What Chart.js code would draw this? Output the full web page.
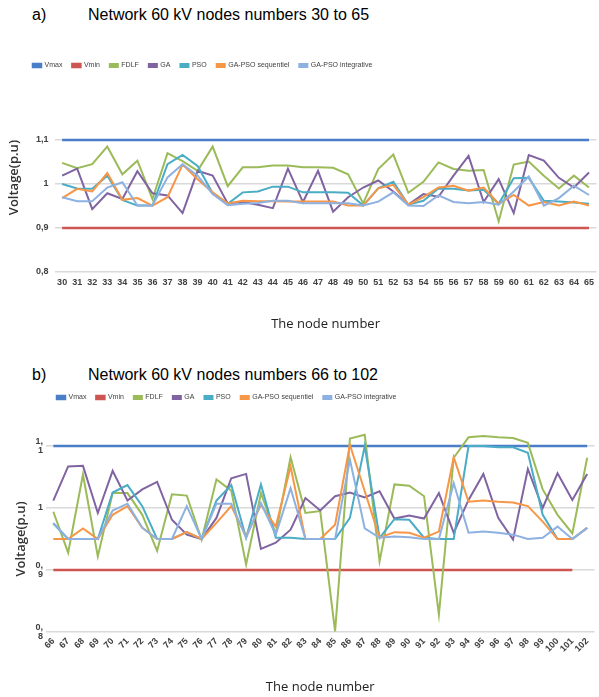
<!DOCTYPE html>
<html>
<head>
<meta charset="utf-8">
<script src="https://cdn.jsdelivr.net/npm/chart.js@4.4.1/dist/chart.umd.min.js"></script>
<style>
  body { margin: 0; background: #fff; width: 599px; height: 697px; position: relative; overflow: hidden; font-family: 'Liberation Sans', Arial, sans-serif; }
  .ttl { position: absolute; font-size: 16px; color: #000; white-space: nowrap; }
  .box { position: absolute; left: 0; width: 599px; }
</style>
</head>
<body>
<div class="ttl" style="left:32px;top:6px">a)</div>
<div class="ttl" style="left:88px;top:6px">Network 60 kV nodes numbers 30 to 65</div>
<div class="box" style="top:46px;height:294px"><canvas id="chartA"></canvas></div>

<div class="ttl" style="left:32px;top:366px">b)</div>
<div class="ttl" style="left:88px;top:366px">Network 60 kV nodes numbers 66 to 102</div>
<div class="box" style="top:380px;height:317px"><canvas id="chartB"></canvas></div>

<script>
// ---- data ----
const VMAX = 1.1;
const VMIN = 0.9;

const nodesA = ['30','31','32','33','34','35','36','37','38','39','40','41','42','43','44','45','46','47',
  '48','49','50','51','52','53','54','55','56','57','58','59','60','61','62','63','64','65'];
const fdlfA = [1.048, 1.036, 1.045, 1.085, 1.022, 1.053, 0.966, 1.070, 1.052, 1.030, 1.085, 0.995,
  1.038, 1.038, 1.042, 1.042, 1.038, 1.038, 1.037, 1.022, 0.956, 1.034, 1.067, 0.980,
  1.005, 1.049, 1.034, 1.030, 1.032, 0.915, 1.044, 1.051, 1.019, 0.990, 1.019, 0.992];
const gaA = [1.019, 1.035, 0.943, 0.979, 0.966, 1.029, 0.979, 0.974, 0.934, 1.030, 1.019, 0.956,
  0.959, 0.953, 0.945, 1.035, 0.959, 1.030, 0.937, 0.970, 0.992, 1.008, 0.983, 0.953,
  0.977, 0.971, 1.019, 1.064, 0.959, 1.011, 0.934, 1.066, 1.053, 1.014, 0.992, 1.026];
const psoA = [1.000, 0.990, 0.989, 1.019, 0.964, 0.951, 0.951, 1.045, 1.066, 1.041, 0.979, 0.955,
  0.981, 0.983, 0.994, 0.994, 0.981, 0.981, 0.981, 0.980, 0.951, 0.990, 1.005, 0.953,
  0.962, 0.990, 0.989, 0.985, 0.987, 0.955, 1.013, 1.014, 0.962, 0.960, 0.958, 0.955];
const seqA = [0.968, 0.989, 0.983, 1.025, 0.964, 0.968, 0.951, 0.970, 1.044, 1.011, 0.981, 0.956,
  0.962, 0.961, 0.961, 0.960, 0.960, 0.960, 0.960, 0.951, 0.951, 0.990, 0.998, 0.953,
  0.970, 0.992, 0.996, 0.985, 0.992, 0.955, 0.975, 0.951, 0.959, 0.951, 0.960, 0.951];
const intA = [0.970, 0.961, 0.961, 0.992, 1.004, 0.951, 0.951, 1.015, 1.045, 1.019, 0.977, 0.952,
  0.955, 0.957, 0.962, 0.962, 0.956, 0.956, 0.956, 0.956, 0.951, 0.960, 0.981, 0.951,
  0.950, 0.974, 0.959, 0.956, 0.959, 0.953, 0.983, 1.017, 0.951, 0.968, 0.996, 0.975];

const nodesB = ['66','67','68','69','70','71','72','73','74','75','76','77','78','79','80','81','82','83',
  '84','85','86','87','88','89','90','91','92','93','94','95','96','97','98','99','100','101','102'];
const fdlfB = [0.994, 0.928, 1.054, 0.922, 1.024, 1.024, 0.989, 0.931, 1.022, 1.020, 0.949, 1.046,
  1.028, 0.909, 1.024, 0.958, 1.082, 0.992, 0.995, 0.801, 1.112, 1.118, 0.914, 1.038,
  1.036, 1.019, 0.828, 1.081, 1.114, 1.116, 1.114, 1.113, 1.105, 1.030, 0.989, 0.959, 1.081];
const gaB = [1.012, 1.067, 1.068, 0.992, 1.060, 1.012, 1.030, 1.042, 0.981, 0.957, 0.950, 0.984,
  1.048, 1.055, 0.934, 0.944, 0.965, 1.016, 0.996, 1.019, 1.025, 1.017, 1.027, 0.983,
  0.988, 0.983, 1.024, 0.960, 1.013, 1.055, 0.984, 0.949, 1.063, 1.000, 1.056, 1.013, 1.055];
const psoB = [0.975, 0.950, 0.950, 0.950, 1.025, 1.037, 1.003, 0.950, 0.950, 0.961, 0.950, 1.012,
  1.037, 0.952, 1.038, 0.952, 0.952, 0.950, 0.950, 0.950, 0.984, 1.100, 0.952, 0.982,
  0.981, 0.952, 0.950, 0.950, 1.100, 1.100, 1.098, 1.098, 1.089, 0.989, 0.950, 0.950, 0.968];
const seqB = [0.950, 0.950, 0.967, 0.950, 0.989, 1.003, 0.968, 0.950, 0.950, 0.961, 0.950, 0.976,
  1.003, 0.954, 1.005, 0.970, 1.067, 0.950, 0.950, 0.973, 1.102, 1.027, 0.952, 0.961,
  0.960, 0.952, 0.962, 1.082, 1.010, 1.012, 1.010, 1.009, 1.003, 0.978, 0.950, 0.950, 0.968];
const intB = [0.976, 0.950, 0.950, 0.950, 0.996, 1.007, 0.968, 0.950, 0.950, 1.003, 0.950, 1.007,
  1.007, 0.952, 1.008, 0.957, 1.032, 0.950, 0.950, 0.950, 1.078, 0.967, 0.952, 0.954,
  0.953, 0.950, 0.950, 1.040, 0.960, 0.962, 0.960, 0.957, 0.950, 0.952, 0.970, 0.950, 0.968];

const yTickValues = [0.8, 0.9, 1.0, 1.1];
const yLabelsA = ['0,8', '0,9', '1', '1,1'];
const yLabelsB = [['0,', '8'], ['0,', '9'], '1', ['1,', '1']];

// ---- styling ----
const seriesNames = ['Vmax', 'Vmin', 'FDLF', 'GA', 'PSO', 'GA-PSO sequentiel', 'GA-PSO integrative'];
const seriesColors = ['#4A7EC6', '#CD5552', '#9BBB59', '#8064A2', '#4BACC6', '#F79646', '#8DB1E0'];
const narrow = "'Liberation Sans Narrow', 'Liberation Sans', Arial, sans-serif";
const textColor = '#404040';

// legend spacing + start offset, Chart.js has no option for these
const legendTweak = {
  id: 'legendTweak',
  beforeInit(chart) {
    const fit = chart.legend.fit;
    chart.legend.fit = function () {
      fit.call(this);
      this.height = chart.options.plugins.legendTweak.height;
    };
  },
  afterLayout(chart) {
    chart.legend.left += chart.options.plugins.legendTweak.shift;
  }
};

function makeDatasets(seriesValues) {
  return seriesValues.map((values, i) => ({
    label: seriesNames[i],
    data: values,
    borderColor: seriesColors[i],
    backgroundColor: seriesColors[i],
    borderWidth: i < 2 ? 2.5 : 2,
    pointRadius: 0,
    tension: 0,
    clip: false,
    order: seriesNames.length - i   // later series on top, like the source
  }));
}

function makeConfig(labels, seriesValues, yLabels, o) {
  return {
    type: 'line',
    data: { labels: labels, datasets: makeDatasets(seriesValues) },
    options: {
      responsive: true,
      maintainAspectRatio: false,
      animation: false,
      layout: { padding: o.padding },
      plugins: {
        legendTweak: { height: o.legendHeight, shift: o.legendShift },
        tooltip: { enabled: false },
        legend: {
          position: 'top',
          align: 'start',
          labels: {
            color: textColor,
            font: { family: narrow, size: 7 },
            boxWidth: 8,
            boxHeight: 3,
            padding: 10,
            sort: (a, b) => a.datasetIndex - b.datasetIndex
          }
        }
      },
      scales: {
        x: {
          offset: true,
          grid: { display: false, drawTicks: false },
          border: { display: false },
          ticks: {
            color: textColor,
            font: { family: narrow, size: 9, weight: 'bold' },
            autoSkip: false,
            maxRotation: o.rotation,
            minRotation: o.rotation,
            padding: o.xTickPad
          },
          title: {
            display: true,
            text: 'The node number',
            color: '#222',
            font: { family: "'Open Sans', sans-serif", size: 13 },
            padding: { top: 0, bottom: o.xTitlePad }
          },
          afterFit: (scale) => { scale.height = o.xHeight; }
        },
        y: {
          min: 0.8,
          max: 1.1,
          grid: { color: '#D9D9D9', lineWidth: 1.5, drawTicks: false },
          border: { display: false },
          afterBuildTicks: (scale) => { scale.ticks = yTickValues.map(v => ({ value: v })); },
          ticks: {
            color: textColor,
            font: { family: narrow, size: 9, weight: 'bold', lineHeight: 1 },
            padding: o.yTickPad,
            callback: (value, index) => yLabels[index]
          },
          title: {
            display: true,
            text: 'Voltage(p.u)',
            align: o.yTitleAlign,
            color: '#333',
            font: { family: "'Open Sans', sans-serif", size: 13, weight: '600' }
          },
          afterFit: (scale) => { scale.width = o.yWidth; }
        }
      }
    },
    plugins: [legendTweak]
  };
}

const limitsA = nodesA.map(() => VMAX);
const lowA = nodesA.map(() => VMIN);
const limitsB = nodesB.map(() => VMAX);
const lowB = nodesB.map((n, i) => (i < nodesB.length - 1 ? VMIN : null)); // red line stops at 101

new Chart(document.getElementById('chartA'), makeConfig(
  nodesA, [limitsA, lowA, fdlfA, gaA, psoA, seqA, intA], yLabelsA,
  { padding: { top: 6, left: 2, right: -6.4, bottom: 4 }, legendHeight: 88, legendShift: 21,
    yWidth: 52.6, xHeight: 64, rotation: 0, xTickPad: 5, xTitlePad: 4, yTickPad: 6, yTitleAlign: 'end' }
));

new Chart(document.getElementById('chartB'), makeConfig(
  nodesB, [limitsB, lowB, fdlfB, gaB, psoB, seqB, intB], yLabelsB,
  { padding: { top: 4, left: 9, right: 4.4, bottom: 2 }, legendHeight: 62, legendShift: 38,
    yWidth: 36.9, xHeight: 63, rotation: 45, xTickPad: 4, xTitlePad: 0, yTickPad: 3, yTitleAlign: 'center' }
));
</script>
</body>
</html>
